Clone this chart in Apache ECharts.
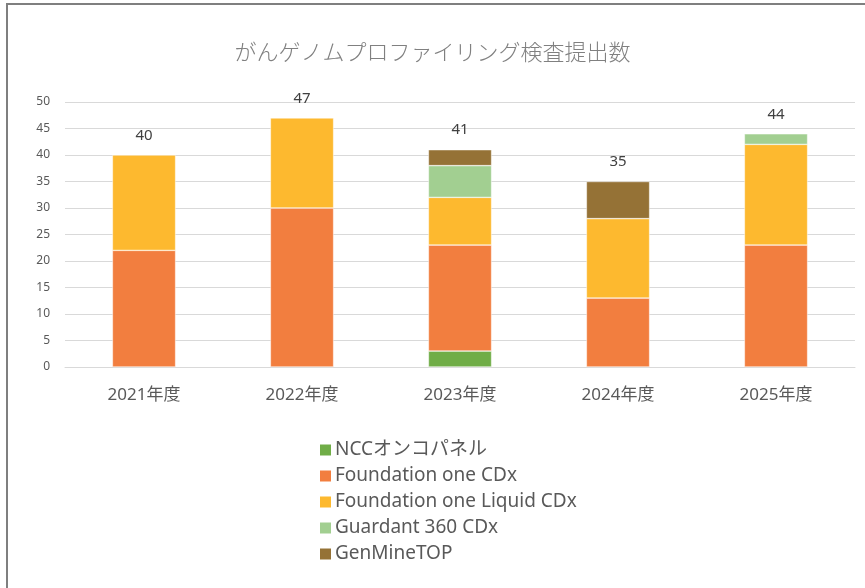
<!DOCTYPE html>
<html>
<head>
<meta charset="utf-8">
<script src="https://cdn.jsdelivr.net/npm/echarts@6/dist/echarts.min.js"></script>
<style>
  html, body { margin: 0; padding: 0; background: #fff; }
  #chart { width: 865px; height: 588px; }
</style>
</head>
<body>
<div id="chart"></div>
<script>
  // 年度ごとの提出数
  var years = ['2021年度', '2022年度', '2023年度', '2024年度', '2025年度'];
  var ncc = [0, 0, 3, 0, 0];
  var f1 = [22, 30, 20, 13, 23];
  var f1Liquid = [18, 17, 9, 15, 19];
  var guardant = [0, 0, 6, 0, 2];
  var genMine = [0, 0, 3, 7, 0];
  var yTicks = [0, 5, 10, 15, 20, 25, 30, 35, 40, 45, 50];

  var totals = years.map(function (y, i) {
    return ncc[i] + f1[i] + f1Liquid[i] + guardant[i] + genMine[i];
  });

  var font = '"Noto Sans", "Noto Sans CJK JP", sans-serif';

  function seg(name, data, color) {
    return {
      name: name,
      type: 'bar',
      stack: 'total',
      barWidth: '40%',
      itemStyle: { color: color, borderColor: '#fff', borderWidth: 0.5 },
      data: data.map(function (v) { return v === 0 ? null : v; })
    };
  }

  var chart = echarts.init(document.getElementById('chart'));
  chart.setOption({
    animation: false,
    textStyle: { fontFamily: font },
    graphic: [{
      type: 'rect',
      shape: { x: 7, y: 4, width: 900, height: 700 },
      style: { fill: 'none', stroke: '#7f7f7f', lineWidth: 2 }
    }],
    title: {
      text: 'がんゲノムプロファイリング検査提出数',
      left: 'center',
      top: 36,
      textStyle: {
        fontFamily: '"Noto Sans CJK JP", sans-serif',
        fontWeight: 300,
        fontSize: 22,
        color: '#808080'
      }
    },
    grid: { left: 65, right: 10, top: 102, bottom: 221 },
    legend: {
      orient: 'vertical',
      left: 313,
      top: 435,
      itemWidth: 13,
      itemHeight: 13,
      itemGap: 6,
      icon: 'rect',
      textStyle: { fontSize: 19, lineHeight: 20, color: '#595959', fontFamily: font, padding: [0, 0, 0, -2] },
      data: ['NCCオンコパネル', 'Foundation one CDx', 'Foundation one Liquid CDx', 'Guardant 360 CDx', 'GenMineTOP']
    },
    xAxis: {
      type: 'category',
      data: years,
      axisTick: { show: false },
      axisLine: { lineStyle: { color: '#d9d9d9' } },
      axisLabel: { fontSize: 17, color: '#595959', margin: 20 }
    },
    yAxis: {
      type: 'value',
      min: yTicks[0],
      max: yTicks[yTicks.length - 1],
      interval: 5,
      axisLabel: { fontSize: 12, color: '#595959', margin: 15 },
      splitLine: { lineStyle: { color: '#d9d9d9' } },
      axisLine: { show: false },
      axisTick: { show: false }
    },
    series: [
      seg('NCCオンコパネル', ncc, '#70ad47'),
      seg('Foundation one CDx', f1, '#f27e3f'),
      seg('Foundation one Liquid CDx', f1Liquid, '#fdb92f'),
      seg('Guardant 360 CDx', guardant, '#a2cf91'),
      seg('GenMineTOP', genMine, '#957236'),
      {
        name: '合計',
        type: 'bar',
        barWidth: '40%',
        barGap: '-100%',
        itemStyle: { color: 'rgba(0,0,0,0)' },
        label: {
          show: true,
          position: 'top',
          distance: 12,
          fontSize: 15,
          color: '#404040'
        },
        data: totals,
        z: 1
      }
    ]
  });
</script>
</body>
</html>
